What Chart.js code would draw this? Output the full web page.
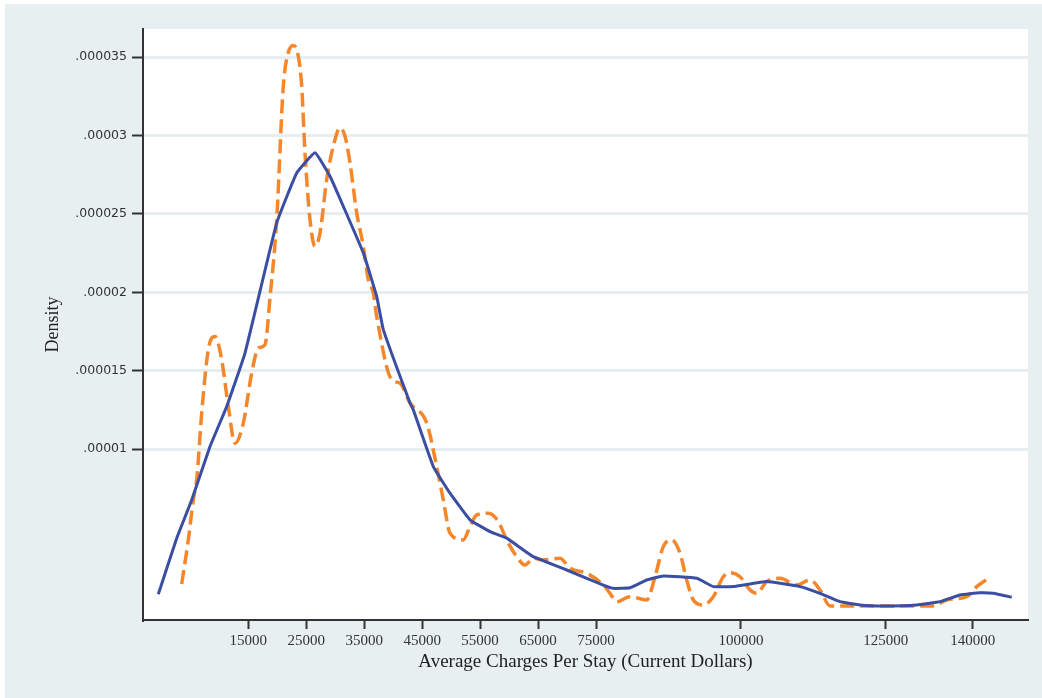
<!DOCTYPE html>
<html>
<head>
<meta charset="utf-8">
<script src="https://cdn.jsdelivr.net/npm/chart.js@4.4.1/dist/chart.umd.min.js"></script>
<style>
  html, body { margin: 0; padding: 0; background: #ffffff; }
  #wrap {
    position: absolute; left: 5px; top: 4px;
    width: 1037px; height: 694px;
    background: #e8eff1;
  }
</style>
</head>
<body>
<div id="wrap"><canvas id="densityChart" width="1037" height="694"></canvas></div>
<script>
// Densité des charges moyennes par séjour
const blueX = [-530, 2645, 5233, 8391, 11273, 14431, 19901, 23352, 26510, 29098,
  31393, 34844, 37157, 38296, 42903, 43472, 46924, 49805, 53256, 56708, 59590, 64180, 69943, 76259,
  77984, 80866, 83748, 86612, 92376, 95240, 98692, 104455, 110201, 113653, 117104, 120555, 124576,
  130339, 134360, 137811, 141262, 143557, 146732];
const blueY = [0.00000074, 0.00000432, 0.00000676, 0.00001017, 0.00001272, 0.00001613,
  0.00002443, 0.00002762, 0.0000289, 0.00002741, 0.00002549, 0.00002252,
  0.00001974, 0.00001762, 0.00001294, 0.00001251, 0.00000889, 0.00000719, 0.00000549, 0.00000474,
  0.00000432, 0.00000314, 0.00000229, 0.00000133, 0.00000112, 0.00000116, 0.00000165, 0.00000191,
  0.00000176, 0.00000123, 0.00000123, 0.00000155, 0.00000123, 0.0000008, 0.00000027, 0.00000006,
  0.0, 0.00000006, 0.00000027, 0.0000007, 0.00000084, 0.0000008, 0.00000055];

const orangeX = [3507, 4646, 5509, 6096, 6959, 8098, 9254, 10410, 11549, 12705, 14137, 15587, 16726,
  17882, 18745, 19901, 21040, 21902, 22765, 23628, 24215, 24784, 25647, 26510, 27373, 28529, 29668,
  30824, 31687, 32549, 33706, 34844, 35707, 36570, 37157, 39745, 41177, 42903, 45785, 47510, 48649,
  49805, 52100, 53256, 54413, 56414, 58140, 59590, 61315, 62747, 64180, 65905, 68787, 70513, 73394,
  76259, 77415, 78571, 80866, 83748, 85180, 86612, 88062, 89494, 90650, 91789, 93515, 95240, 96966,
  98122, 99848, 101573, 102730, 104455, 106750, 109632, 111927, 113653, 115378, 118829, 124576,
  133204, 135516, 138967, 140693, 142694];
const orangeY = [0.0000014, 0.00000421, 0.00000676, 0.00000804, 0.0000123, 0.00001634, 0.00001719,
  0.0000157, 0.00001272, 0.00001038, 0.00001166, 0.00001485, 0.00001645, 0.00001666, 0.00001966,
  0.00002464, 0.00003315, 0.00003529, 0.00003575, 0.00003507, 0.00003315, 0.0000289, 0.00002464,
  0.00002294, 0.00002379, 0.0000272, 0.00002932, 0.0000305, 0.00002996, 0.00002826, 0.00002507,
  0.00002294, 0.00002081, 0.00001996, 0.00001847, 0.00001443, 0.00001421, 0.00001294, 0.00001166,
  0.00000889, 0.00000676, 0.00000464, 0.00000421, 0.00000506, 0.0000058, 0.00000591, 0.00000538,
  0.00000421, 0.00000314, 0.00000261, 0.00000304, 0.00000293, 0.00000304, 0.0000024, 0.00000208,
  0.00000133, 0.0000008, 0.00000027, 0.00000059, 0.00000038, 0.00000186, 0.00000378, 0.00000421,
  0.00000336, 0.00000165, 0.00000038, 0.00000006, 0.00000059, 0.00000186, 0.00000212, 0.00000186,
  0.00000102, 0.0000008, 0.00000155, 0.00000176, 0.00000133, 0.00000165, 0.00000102, 0.0, 0.0, 0.0,
  0.0, 0.00000038, 0.00000059, 0.00000123, 0.00000176];

const xTicks = [15000, 25000, 35000, 45000, 55000, 65000, 75000, 100000, 125000, 140000];
const yTicks = [0.00001, 0.000015, 0.00002, 0.000025, 0.00003, 0.000035];

// étiquettes façon Stata : ".00002" au lieu de "0.00002"
function fmtDensity(v) {
  return String(Number(v.toFixed(6))).replace(/^0\./, '.');
}

// fond blanc de la zone de tracé
const plotBg = {
  id: 'plotBg',
  beforeDraw(chart) {
    const a = chart.chartArea;
    const ctx = chart.ctx;
    ctx.save();
    ctx.fillStyle = '#ffffff';
    ctx.fillRect(a.left, a.top, a.right - a.left, a.bottom - a.top);
    ctx.restore();
  }
};

const ctx = document.getElementById('densityChart').getContext('2d');
new Chart(ctx, {
  type: 'line',
  data: {
    datasets: [
      {
        data: blueX.map((x, i) => ({ x: x, y: blueY[i] })),
        borderColor: '#3a4ea3',
        borderWidth: 3,
        pointRadius: 0,
        tension: 0.1,
        fill: false
      },
      {
        data: orangeX.map((x, i) => ({ x: x, y: orangeY[i] })),
        borderColor: '#f5862a',
        borderWidth: 3.5,
        borderDash: [14, 6],
        pointRadius: 0,
        cubicInterpolationMode: 'monotone',
        fill: false
      }
    ]
  },
  options: {
    responsive: false,
    animation: false,
    layout: { padding: { left: 0, right: 14, top: 25, bottom: 0 } },
    plugins: { legend: { display: false }, tooltip: { enabled: false } },
    scales: {
      x: {
        type: 'linear',
        min: -3170,
        max: 149540,
        afterBuildTicks: axis => { axis.ticks = xTicks.map(v => ({ value: v })); },
        afterFit: axis => { axis.height = 78; },
        ticks: {
          autoSkip: false,
          maxRotation: 0,
          padding: 3,
          color: '#333333',
          font: { family: '"Liberation Serif", serif', size: 15 },
          callback: v => String(v)
        },
        grid: {
          drawOnChartArea: false,
          drawTicks: true,
          tickLength: 9,
          tickColor: '#333333',
          tickWidth: 2
        },
        border: { color: '#333333', width: 2 },
        title: {
          display: true,
          text: 'Average Charges Per Stay (Current Dollars)',
          color: '#222222',
          font: { family: '"Liberation Serif", serif', size: 19 },
          padding: { top: 0, bottom: 25 }
        }
      },
      y: {
        type: 'linear',
        min: -0.0000009,
        max: 0.0000368,
        afterBuildTicks: axis => { axis.ticks = yTicks.map(v => ({ value: v })); },
        afterFit: axis => { axis.width = 138; },
        ticks: {
          padding: 5,
          color: '#333333',
          font: { family: '"DejaVu Sans", sans-serif', size: 12.5 },
          callback: v => fmtDensity(v)
        },
        grid: {
          color: '#e6eef0',
          lineWidth: 3,
          drawTicks: true,
          tickLength: 11,
          tickColor: '#333333',
          tickWidth: 2
        },
        border: { color: '#333333', width: 2 },
        title: {
          display: true,
          text: 'Density',
          color: '#222222',
          font: { family: '"Liberation Serif", serif', size: 18 },
          padding: { top: 37, bottom: 0 }
        }
      }
    }
  },
  plugins: [plotBg]
});
</script>
</body>
</html>
